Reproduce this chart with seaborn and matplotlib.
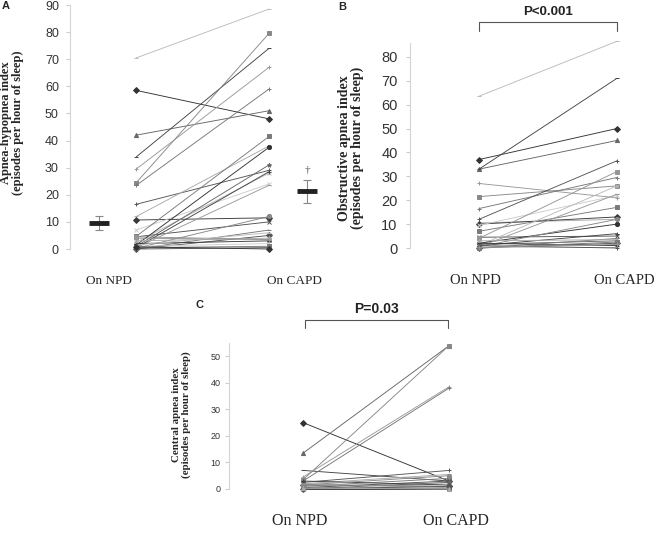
import matplotlib
matplotlib.use("Agg")
import matplotlib.pyplot as plt
import numpy as np
import pandas as pd
import seaborn as sns

# --- data ---
A_npd = [70.5, 58.5, 42, 34, 29.5, 24.5, 23.5, 16.5, 12, 10.7, 7, 4.7, 4.5, 4.5, 2.5,
         1.5, 1, 0.5, 0.5, 0.3, 0, 0, 3, 2, 1, 0.5, 0, 4, 1.5, 0.8]
A_capd = [88.5, 48, 51, 74, 67, 79.5, 59, 29, 38, 11.5, 24, 41.5, 10, 3.5, 28,
          37.5, 31, 28.5, 23.5, 12, 7, 5, 4, 3, 2, 1, 0.5, 3.5, 6, 0]
A_mean = [9.7, 21.5]
A_err_lo = [2.7, 4.5]
A_err_hi = [2.5, 4.0]

B_npd = [63.5, 37, 33, 33, 27, 21.5, 16.5, 12, 10.5, 10, 9.5, 7, 4.5, 4, 1, 2,
         1.5, 1, 0.5, 0.5, 0, 0, 3, 2, 0.5, 0, 1, 0.3]
B_capd = [86.5, 50, 45, 71, 21, 26, 29.5, 36.5, 12, 13, 22, 17, 5, 32, 26, 10,
          3, 6, 22.5, 12, 4, 2, 3.5, 1, 0.5, 2.5, 0, 1.5]

C_npd = [25, 13.5, 7, 4.5, 3.5, 3, 2.5, 2, 1.5, 1, 1, 0.5, 0.5, 0, 0, 0, 3, 2, 1.5, 0.5, 0, 0.3]
C_capd = [3, 54, 3, 38.5, 54, 38, 7, 5.5, 1, 2, 4, 3, 0.5, 1, 0, 2.5, 1.5, 0.5, 5, 0, 1, 0]

conditions = ["On NPD", "On CAPD"]

grays = ["#bbbbbb", "#333333", "#666666", "#444444", "#999999", "#888888", "#777777",
         "#555555", "#aaaaaa", "#3a3a3a", "#cccccc", "#7a7a7a", "#505050", "#959595"]
marks = ["_", "D", "^", "_", "+", "s", "+", "+", "_", "D", "x", "s", "x", "s", "x",
         "o", "*", "+", "_", "o"]

W, H = 656, 536
sns.set_style("white")
fig = plt.figure(figsize=(W / 100, H / 100), dpi=100)


def box(l, r, t, b):
    return [l / W, 1 - b / H, (r - l) / W, (b - t) / H]


def paired(ax, npd, capd, start=0):
    df = pd.DataFrame({"pid": np.repeat(np.arange(len(npd)), 2),
                       "x": [0, 1] * len(npd),
                       "v": np.ravel(np.column_stack([npd, capd]))})
    for i, sub in df.groupby("pid"):
        c = grays[(i + start) % len(grays)]
        m = marks[(i + start) % len(marks)]
        sns.lineplot(data=sub, x="x", y="v", ax=ax, color=c, lw=0.65, marker=m,
                     markersize=3, markeredgecolor=c, markeredgewidth=0.7,
                     errorbar=None, legend=False, clip_on=False)


def style_axis(ax, ymax, ticks, tsize, pad):
    for s in ["top", "right", "bottom"]:
        ax.spines[s].set_visible(False)
    ax.spines["left"].set_color("#d4d4d4")
    ax.spines["left"].set_bounds(0, ymax)
    ax.set_yticks(ticks)
    ax.tick_params(axis="y", left=True, length=3, color="#cccccc", labelsize=tsize,
                   labelcolor="#333333", pad=pad)
    for lab in ax.get_yticklabels():
        lab.set_family("Liberation Sans")
    ax.set_xticks([])
    ax.set_xlabel("")


serif = "Liberation Serif"

# Panel A
axA = fig.add_axes(box(70, 330, 5, 249))
paired(axA, A_npd, A_capd)
axA.errorbar([-0.28, 1.29], A_mean, yerr=[A_err_lo, A_err_hi], fmt="none",
             ecolor="#888888", elinewidth=0.8, capsize=3, capthick=0.8)
axA.plot([-0.28, 1.29], A_mean, ls="none", marker="_", ms=14, mew=3.5, color="#222222")
axA.text(1.29, A_mean[1] + 6, "\u2020", ha="center", va="bottom", fontsize=8,
         color="#555555", family=serif)
axA.set_xlim(-0.5, 1.46)
axA.set_ylim(0, 90)
style_axis(axA, 90, range(0, 91, 10), 9, 5)
axA.set_ylabel("Apnea-hypopnea index\n(episodes per hour of sleep)", family=serif,
               fontweight="bold", fontsize=9, linespacing=1.0, va="center")
axA.yaxis.set_label_coords(-0.223, 0.516)

# Panel B
axB = fig.add_axes(box(410, 650, 42.5, 248))
paired(axB, B_npd, B_capd)
axB.set_xlim(-0.5, 1.24)
axB.set_ylim(0, 86)
style_axis(axB, 86, range(0, 81, 10), 10.5, 6)
axB.set_ylabel("Obstructive apnea index\n(episodes per hour of sleep)", family=serif,
               fontweight="bold", fontsize=10, linespacing=1.0, va="center")
axB.yaxis.set_label_coords(-0.245, 0.487)

# Panel C
axC = fig.add_axes(box(229, 480, 343, 489))
paired(axC, C_npd, C_capd, start=1)
axC.set_xlim(-0.507, 1.212)
axC.set_ylim(0, 55)
style_axis(axC, 55, range(0, 51, 10), 6.5, 3)
axC.set_ylabel("Central apnea index\n(episodes per hour of sleep)", family=serif,
               fontweight="bold", fontsize=7.8, linespacing=1.1, va="center")
axC.yaxis.set_label_coords(-0.19, 0.507)

# condition labels
for (x, y, fs), lab in zip([(109, 281, 9.5), (294, 281, 9.5)], conditions):
    fig.text(x / W, 1 - y / H, lab, ha="center", va="center", family=serif, fontsize=fs)
for (x, y, fs), lab in zip([(475, 281, 10.5), (624, 281, 10.5)], conditions):
    fig.text(x / W, 1 - y / H, lab, ha="center", va="center", family=serif, fontsize=fs)
for (x, y, fs), lab in zip([(300, 521, 11.5), (456, 521, 11.5)], conditions):
    fig.text(x / W, 1 - y / H, lab, ha="center", va="center", family=serif, fontsize=fs)

# panel letters
for x, y, t in [(2, 6, "A"), (338, 7, "B"), (196, 305, "C")]:
    fig.text(x / W, 1 - y / H, t, ha="left", va="center", fontweight="bold",
             family="Liberation Sans", fontsize=8)


def bracket(x0, x1, ytop, ydrop, label, ytxt, fs):
    fig.add_artist(plt.Line2D([x0 / W, x0 / W, x1 / W, x1 / W],
                              [1 - ydrop / H, 1 - ytop / H, 1 - ytop / H, 1 - ydrop / H],
                              color="#555555", lw=0.8))
    fig.text((x0 + x1) / 2 / W, 1 - ytxt / H, label, ha="center", va="center",
             fontweight="bold", family="Liberation Sans", fontsize=fs, color="#222222")


bracket(479, 617, 22, 31, "P<0.001", 12, 9.5)
bracket(305, 448, 320, 328, "P=0.03", 309, 10)

fig.savefig("out.png", dpi=100)
